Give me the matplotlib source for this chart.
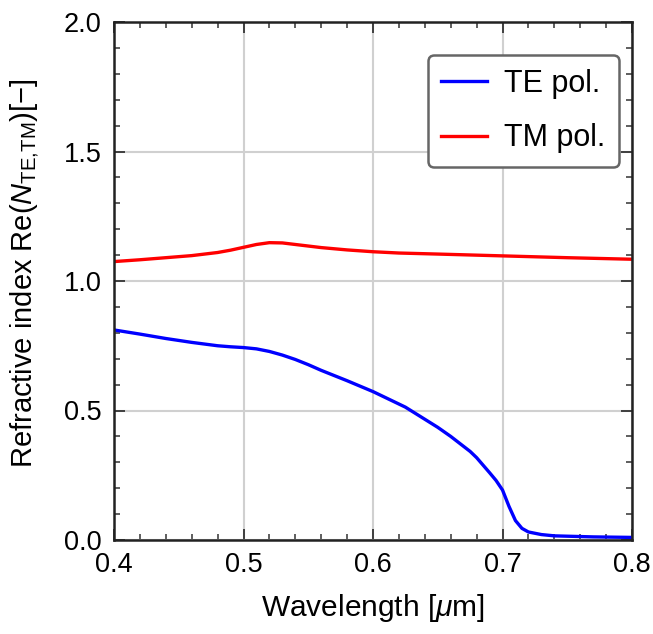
import numpy as np
import matplotlib
matplotlib.use("Agg")
import matplotlib.pyplot as plt
from matplotlib.ticker import MultipleLocator, FormatStrFormatter

plt.rcParams['font.family'] = ['Liberation Sans', 'DejaVu Sans']
plt.rcParams['mathtext.fontset'] = 'custom'
plt.rcParams['mathtext.rm'] = 'Liberation Sans'
plt.rcParams['mathtext.it'] = 'Liberation Sans:italic'
plt.rcParams['mathtext.sf'] = 'Liberation Sans'

# Data
wl_tm = [0.40, 0.42, 0.44, 0.46, 0.48, 0.49, 0.50, 0.51, 0.52, 0.53, 0.54, 0.55, 0.56,
         0.58, 0.60, 0.62, 0.65, 0.70, 0.75, 0.80]
n_tm = [1.075, 1.082, 1.090, 1.098, 1.110, 1.119, 1.130, 1.141, 1.148, 1.147, 1.141, 1.135, 1.129,
        1.120, 1.113, 1.108, 1.104, 1.097, 1.090, 1.084]

wl_te = [0.40, 0.42, 0.44, 0.46, 0.48, 0.49, 0.50, 0.51, 0.52, 0.53, 0.54, 0.55, 0.56,
         0.58, 0.60, 0.625, 0.65, 0.66, 0.675, 0.68, 0.69, 0.695, 0.70, 0.705, 0.71,
         0.715, 0.72, 0.73, 0.74, 0.77, 0.80]
n_te = [0.811, 0.795, 0.778, 0.763, 0.750, 0.746, 0.743, 0.738, 0.728, 0.714, 0.697, 0.677, 0.655,
        0.615, 0.573, 0.513, 0.435, 0.400, 0.342, 0.318, 0.260, 0.230, 0.193, 0.130, 0.075,
        0.045, 0.031, 0.021, 0.016, 0.012, 0.010]

fig = plt.figure(figsize=(6.53, 6.34), dpi=100)
ax = fig.add_axes([114/653, 1 - 540/634, (632-114)/653, (540-22)/634])

ax.plot(wl_te, n_te, color='#0000ff', lw=2.4, label='TE pol.', solid_joinstyle='round')
ax.plot(wl_tm, n_tm, color='#ff0000', lw=2.4, label='TM pol.', solid_joinstyle='round')

ax.set_xlim(0.4, 0.8)
ax.set_ylim(0.0, 2.0)
ax.xaxis.set_major_locator(MultipleLocator(0.1))
ax.xaxis.set_minor_locator(MultipleLocator(0.02))
ax.yaxis.set_major_locator(MultipleLocator(0.5))
ax.yaxis.set_minor_locator(MultipleLocator(0.1))
ax.xaxis.set_major_formatter(FormatStrFormatter('%.1f'))
ax.yaxis.set_major_formatter(FormatStrFormatter('%.1f'))
ax.grid(True, which='major', color='#d0d0d0', lw=1.5)
ax.set_axisbelow(True)
ax.tick_params(which='both', direction='in', top=True, right=True, labelsize=19.5, color='#333333')
ax.tick_params(which='major', length=8, width=1.3, pad=9)
ax.tick_params(which='minor', length=4.5, width=1.1)
for s in ax.spines.values():
    s.set_linewidth(1.8)
    s.set_color('#222222')

ax.set_xlabel(r'Wavelength [$\mu$m]', fontsize=21.5, labelpad=10)
ax.set_ylabel('Refractive index Re($N_{\\mathrm{TE{,}TM}}$)[\u2212]', fontsize=21, labelpad=12)
ax.yaxis.set_label_coords(-0.140, 0.515)

leg = ax.legend(loc='upper right', fontsize=22, frameon=True, fancybox=True,
                handlelength=1.5, handletextpad=0.55, borderpad=0.45, labelspacing=0.8,
                borderaxespad=0, bbox_to_anchor=((619-114)/518, (540-55)/518), framealpha=1)
leg.get_frame().set_edgecolor('#666666')
leg.get_frame().set_linewidth(1.8)

fig.savefig('out.png', dpi=100)
